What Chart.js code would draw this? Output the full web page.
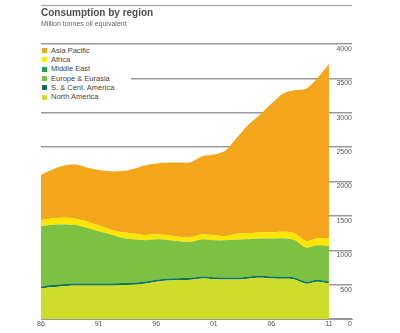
<!DOCTYPE html>
<html lang="en">

<head>
  <meta charset="UTF-8">
  <title>Consumption by region</title>
  <script src="https://cdn.jsdelivr.net/npm/chart.js"></script>
  <style>
    body { margin: 0; background: #fff; }
    .wrap { position: relative; width: 400px; height: 333px; }
    #legenda {
      position: absolute; left: 41px; top: 45.6px; width: 90px;
      background: #fff; font-family: 'Liberation Sans', Arial, sans-serif;
      font-size: 7.5px; color: #444;
    }
    #legenda div { height: 9.34px; line-height: 9.34px; white-space: nowrap; }
    #legenda span { display: inline-block; width: 5px; height: 5px; margin: 0 4px 0 1px; vertical-align: -0.5px; }
  </style>
</head>

<body>
  <div class="wrap">
    <canvas id="grafico" width="400" height="333"></canvas>
    <div id="legenda"></div>
  </div>

  <script>
    const anos = [1986, 1987, 1988, 1989, 1990, 1991, 1992, 1993, 1994, 1995, 1996, 1997, 1998,
      1999, 2000, 2001, 2002, 2003, 2004, 2005, 2006, 2007, 2008, 2009, 2010, 2011];
    const anosRotulo = [1986, 1991, 1996, 2001, 2006, 2011];

    // valores, em ordem de empilhamento (de baixo pra cima)
    const northAmerica = [442, 464, 478, 488, 488, 488, 488, 496, 500, 512, 541, 561, 565,
      570, 590, 580, 575, 575, 587, 599, 590, 584, 575, 512, 541, 517];
    const scAmerica = [29, 29, 29, 29, 29, 29, 29, 29, 29, 29, 29, 29, 29,
      29, 29, 29, 29, 29, 29, 29, 29, 29, 29, 29, 29, 29];
    const europeEurasia = [878, 877, 869, 849, 809, 758, 714, 656, 630, 604, 590, 559, 536,
      522, 540, 536, 540, 551, 543, 542, 552, 561, 545, 498, 503, 516];
    const middleEast = [0, 0, 0, 0, 0, 0, 0, 0, 0, 0, 0, 0, 0,
      0, 0, 0, 0, 0, 0, 0, 0, 0, 0, 0, 0, 0];
    const africa = [87, 94, 97, 93, 94, 87, 72, 80, 87, 77, 72, 68, 65,
      64, 72, 72, 62, 84, 87, 87, 90, 94, 97, 96, 101, 112];
    const asiaPacific = [662, 710, 758, 787, 782, 804, 845, 891, 935, 1010, 1029, 1058, 1080,
      1095, 1135, 1174, 1242, 1398, 1580, 1714, 1870, 2007, 2080, 2213, 2333, 2536];

    const series = [
      { label: 'North America', data: northAmerica, cor: '#cedc2a' },
      { label: 'S. & Cent. America', data: scAmerica, cor: '#0a7656' },
      { label: 'Europe & Eurasia', data: europeEurasia, cor: '#7dc142' },
      { label: 'Middle East', data: middleEast, cor: '#17a64b' },
      { label: 'Africa', data: africa, cor: '#ffe500' },
      { label: 'Asia Pacific', data: asiaPacific, cor: '#f4a61b' }
    ];

    const fonte = "'Liberation Sans', Arial, sans-serif";

    // linha cinza acima do titulo
    const linhaTopo = {
      id: 'linhaTopo',
      beforeDraw(chart) {
        const c = chart.ctx;
        c.save();
        c.strokeStyle = '#b0b0b0';
        c.lineWidth = 1.5;
        c.beginPath();
        c.moveTo(chart.chartArea.left, 5.5);
        c.lineTo(chart.chartArea.right, 5.5);
        c.stroke();
        c.restore();
      }
    };

    const grafico = new Chart(document.getElementById('grafico'), {
      type: 'line',
      data: {
        datasets: series.map((s, i) => ({
          label: s.label,
          data: s.data.map((v, j) => ({ x: anos[j], y: v })),
          backgroundColor: s.cor,
          borderColor: 'rgba(0,0,0,0)',
          borderWidth: 0,
          pointRadius: 0,
          tension: 0.3,
          fill: i === 0 ? 'origin' : '-1'
        }))
      },
      options: {
        responsive: false,
        animation: false,
        layout: { padding: { left: 41, right: 48, top: 7.5, bottom: 3.6 } },
        scales: {
          x: {
            type: 'linear',
            min: 1986,
            max: 2013,
            afterBuildTicks: axis => { axis.ticks = anosRotulo.map(v => ({ value: v })); },
            grid: { display: false, drawTicks: false },
            border: { display: true, color: '#999', width: 1 },
            ticks: {
              padding: 1,
              maxRotation: 0,
              color: '#555',
              font: { family: fonte, size: 7 },
              callback: v => String(v).slice(2)
            }
          },
          y: {
            position: 'right',
            stacked: true,
            min: 0,
            max: 4000,
            grid: { color: '#9a9a9a', lineWidth: 1.5, drawTicks: false },
            border: { display: false },
            ticks: {
              stepSize: 500,
              mirror: true,
              padding: 0,
              labelOffset: 5,
              color: '#555',
              font: { family: fonte, size: 7 },
              callback: v => String(v)
            }
          }
        },
        plugins: {
          legend: { display: false },
          tooltip: { enabled: false },
          title: {
            display: true,
            text: 'Consumption by region',
            align: 'start',
            color: '#4d4d4d',
            font: { family: fonte, size: 10, weight: 'bold' },
            padding: { top: 0, bottom: 0 }
          },
          subtitle: {
            display: true,
            text: 'Million tonnes oil equivalent',
            align: 'start',
            color: '#666',
            font: { family: fonte, size: 7 },
            padding: { top: 0, bottom: 16.1 }
          }
        }
      },
      plugins: [linhaTopo]
    });

    // legenda em html, do topo da pilha pra baixo
    const legenda = document.getElementById('legenda');
    grafico.data.datasets.slice().reverse().forEach(ds => {
      const linha = document.createElement('div');
      linha.innerHTML = `<span style="background:${ds.backgroundColor}"></span>${ds.label}`;
      legenda.appendChild(linha);
    });
  </script>
</body>

</html>
